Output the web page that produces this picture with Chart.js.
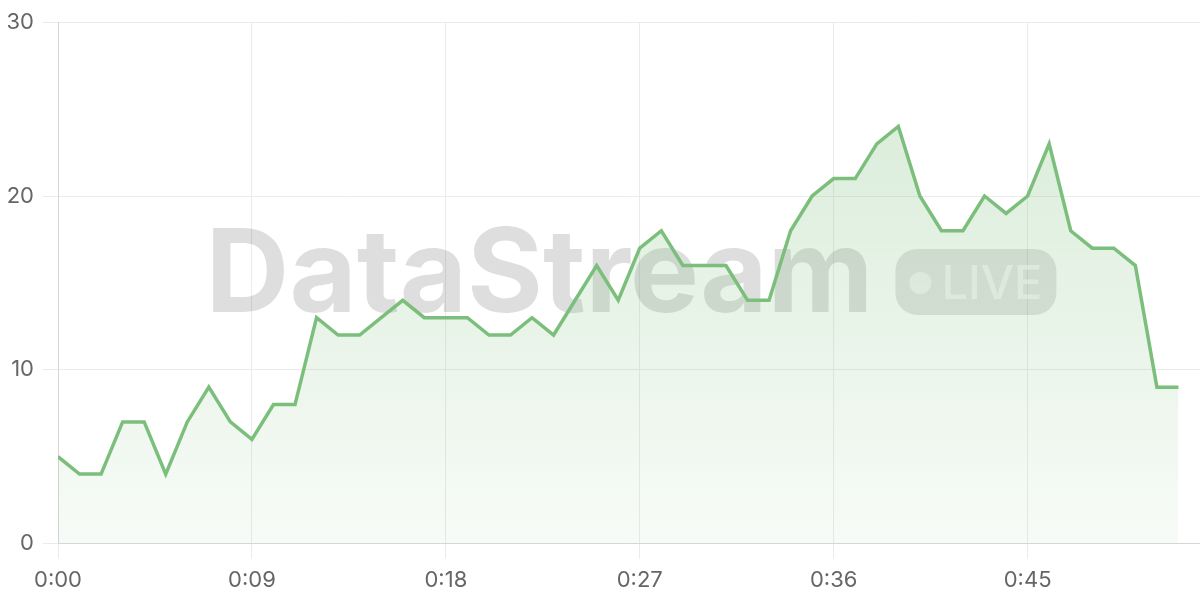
<!DOCTYPE html>
<html>
<head>
<meta charset="utf-8">
<script src="https://cdn.jsdelivr.net/npm/chart.js@4.4.1/dist/chart.umd.min.js"></script>
<style>
  html, body { margin: 0; padding: 0; background: #fff; }
  #wrap { width: 1200px; height: 600px; }
</style>
</head>
<body>
<div id="wrap"><canvas id="liveChart"></canvas></div>
<script>
// seconds since start (one point per second)
const seconds = [
  0, 1, 2, 3, 4, 5, 6, 7, 8, 9,
  10, 11, 12, 13, 14, 15, 16, 17, 18, 19,
  20, 21, 22, 23, 24, 25, 26, 27, 28, 29,
  30, 31, 32, 33, 34, 35, 36, 37, 38, 39,
  40, 41, 42, 43, 44, 45, 46, 47, 48, 49,
  50, 51, 52
];
// events per second
const counts = [
  5, 4, 4, 7, 7, 4, 7, 9, 7, 6,
  8, 8, 13, 12, 12, 13, 14, 13, 13, 13,
  12, 12, 13, 12, 14, 16, 14, 17, 18, 16,
  16, 16, 14, 14, 18, 20, 21, 21, 23, 24,
  20, 18, 18, 20, 19, 20, 23, 18, 17, 17,
  16, 9, 9
];
const yTicks = [0, 10, 20, 30];
const xTickStep = 9;
const xMax = 53;
const watermarkText = "DataStream";
const badgeText = "LIVE";

const lineColor = "rgb(124, 190, 124)";

// Watermark drawn behind the line
const watermark = {
  id: "watermark",
  beforeDatasetsDraw(chart) {
    const { ctx, chartArea } = chart;
    const cx = (chartArea.left + chartArea.right) / 2;
    const cy = (chartArea.top + chartArea.bottom) / 2;
    ctx.save();
    ctx.font = "bold 116px Inter";
    const tw = ctx.measureText(watermarkText).width;
    const pillW = 161, pillH = 66, gap = 22;
    const x0 = cx - (tw + gap + pillW) / 2 + 2;
    ctx.fillStyle = "rgba(0, 0, 0, 0.13)";
    ctx.textBaseline = "alphabetic";
    ctx.fillText(watermarkText, x0, cy + 29);
    // badge
    const px = x0 + tw + gap, py = cy - 34;
    ctx.beginPath();
    ctx.roundRect(px, py, pillW, pillH, 22);
    ctx.fillStyle = "rgba(0, 0, 0, 0.11)";
    ctx.fill();
    ctx.fillStyle = "rgba(255, 255, 255, 0.55)";
    ctx.beginPath();
    ctx.arc(px + 25, cy, 11, 0, Math.PI * 2);
    ctx.fill();
    ctx.font = "500 47px Inter";
    ctx.textBaseline = "middle";
    ctx.fillText(badgeText, px + 46, cy + 2);
    ctx.restore();
  },
};

const ctx = document.getElementById("liveChart").getContext("2d");
new Chart(ctx, {
  type: "line",
  data: {
    datasets: [
      {
        label: "Eventos",
        data: seconds.map((s, i) => ({ x: s, y: counts[i] })),
        borderColor: lineColor,
        borderWidth: 3.5,
        borderJoinStyle: "miter",
        tension: 0,
        pointRadius: 0,
        fill: "origin",
        backgroundColor: (c) => {
          const area = c.chart.chartArea;
          if (!area) return "rgba(124, 190, 124, 0.2)";
          const g = c.chart.ctx.createLinearGradient(0, area.top, 0, area.bottom);
          g.addColorStop(0, "rgba(124, 190, 124, 0.32)");
          g.addColorStop(1, "rgba(124, 190, 124, 0.06)");
          return g;
        },
      },
    ],
  },
  options: {
    responsive: true,
    maintainAspectRatio: false,
    animation: false,
    layout: { padding: { top: 20, right: 0, bottom: -3, left: 0 } },
    plugins: {
      legend: { display: false },
      tooltip: { enabled: false },
    },
    scales: {
      x: {
        type: "linear",
        min: 0,
        max: xMax,
        grid: { color: "#ebebeb", lineWidth: 1, tickLength: 15 },
        border: { color: "#d6d6d6" },
        ticks: {
          stepSize: xTickStep,
          includeBounds: false,
          padding: 9,
          color: "#666",
          font: { family: "Inter", size: 22 },
          maxRotation: 0,
          callback: (v) => "0:" + String(v).padStart(2, "0"),
        },
      },
      y: {
        min: yTicks[0],
        max: yTicks[yTicks.length - 1],
        afterFit: (s) => { s.width = 58; },
        grid: { color: "#ebebeb", lineWidth: 1, tickLength: 15 },
        border: { color: "#d6d6d6" },
        ticks: {
          stepSize: yTicks[1] - yTicks[0],
          padding: 9,
          color: "#666",
          font: { family: "Inter", size: 22 },
        },
      },
    },
  },
  plugins: [watermark],
});
</script>
</body>
</html>
